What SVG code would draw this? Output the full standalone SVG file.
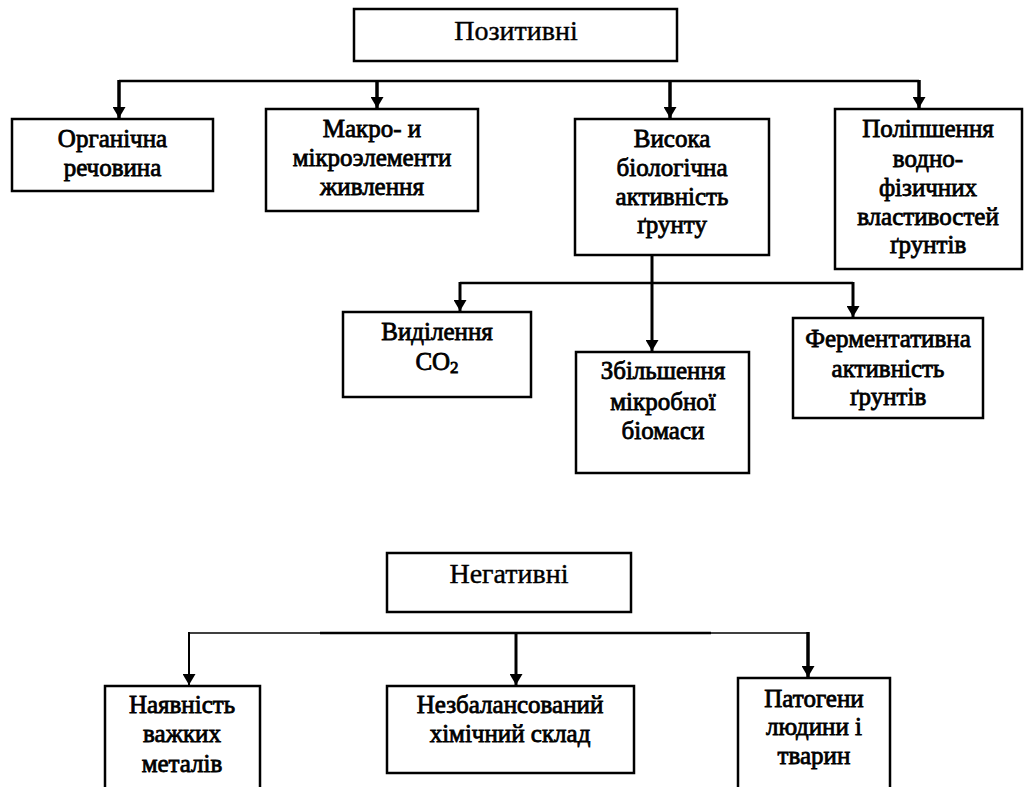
<svg xmlns="http://www.w3.org/2000/svg" width="1026" height="787" viewBox="0 0 1026 787">
<style>
.box{fill:#fff;stroke:#000;stroke-width:2.5}
.t{font-family:"Liberation Serif",serif;font-size:25px;text-anchor:middle;fill:#000;stroke:#000;stroke-width:0.8}
.h{font-family:"Liberation Serif",serif;font-size:28px;text-anchor:middle;fill:#000;stroke:#000;stroke-width:0.4}
.c{stroke:#000;fill:none}
</style>
<defs>
<marker id="ah" markerUnits="userSpaceOnUse" markerWidth="13" markerHeight="13" refX="11" refY="6.5" orient="auto">
<path d="M0,0 L11,6.5 L0,13 z" fill="#000"/>
</marker>
</defs>
<rect width="1026" height="787" fill="#fff"/>
<g id="connectors">
<line class="c" x1="119" y1="81" x2="919" y2="81" stroke-width="2.5"/>
<line class="c" x1="119" y1="80" x2="119" y2="118" stroke-width="3.5" marker-end="url(#ah)"/>
<line class="c" x1="377" y1="80" x2="377" y2="108" stroke-width="3.5" marker-end="url(#ah)"/>
<line class="c" x1="670" y1="80" x2="670" y2="118" stroke-width="3.5" marker-end="url(#ah)"/>
<line class="c" x1="919" y1="80" x2="919" y2="108" stroke-width="3.5" marker-end="url(#ah)"/>
<line class="c" x1="652" y1="255" x2="652" y2="351" stroke-width="3" marker-end="url(#ah)"/>
<line class="c" x1="460" y1="283" x2="853" y2="283" stroke-width="2.5"/>
<line class="c" x1="460" y1="282" x2="460" y2="311" stroke-width="3" marker-end="url(#ah)"/>
<line class="c" x1="853" y1="282" x2="853" y2="317" stroke-width="3" marker-end="url(#ah)"/>
<line class="c" x1="189" y1="633" x2="808" y2="633" stroke-width="1.5"/>
<line class="c" x1="320" y1="633" x2="711" y2="633" stroke-width="2.5"/>
<line class="c" x1="189" y1="632" x2="189" y2="685" stroke-width="2" marker-end="url(#ah)"/>
<line class="c" x1="516" y1="632" x2="516" y2="685" stroke-width="3" marker-end="url(#ah)"/>
<line class="c" x1="808" y1="632" x2="808" y2="677" stroke-width="3.5" marker-end="url(#ah)"/>
</g>
<g id="pozytyvni">
<rect class="box" x="354" y="9" width="323" height="52"/>
<text class="h" x="516" y="40">Позитивні</text>
</g>
<g id="orhanichna">
<rect class="box" x="12" y="119" width="201" height="72"/>
<text class="t" x="112.5" y="147">Органічна</text>
<text class="t" x="112.5" y="176">речовина</text>
</g>
<g id="makro">
<rect class="box" x="266" y="109" width="212" height="102"/>
<text class="t" x="372" y="137">Макро- и</text>
<text class="t" x="372" y="166">мікроэлементи</text>
<text class="t" x="372" y="195">живлення</text>
</g>
<g id="vysoka">
<rect class="box" x="575" y="119" width="194" height="136"/>
<text class="t" x="672" y="147">Висока</text>
<text class="t" x="672" y="176">біологічна</text>
<text class="t" x="672" y="205">активність</text>
<text class="t" x="672" y="233">ґрунту</text>
</g>
<g id="polipshennia">
<rect class="box" x="835" y="109" width="187" height="160"/>
<text class="t" x="928" y="137">Поліпшення</text>
<text class="t" x="928" y="167">водно-</text>
<text class="t" x="928" y="196">фізичних</text>
<text class="t" x="928" y="225">властивостей</text>
<text class="t" x="928" y="253">ґрунтів</text>
</g>
<g id="vydilennia">
<rect class="box" x="343" y="312" width="188" height="85"/>
<text class="t" x="437" y="340">Виділення</text>
<text class="t" x="437" y="370">CO<tspan font-size="17" dy="3">2</tspan></text>
</g>
<g id="zbilshennia">
<rect class="box" x="576" y="352" width="173" height="121"/>
<text class="t" x="663" y="379">Збільшення</text>
<text class="t" x="663" y="410">мікробної</text>
<text class="t" x="663" y="439">біомаси</text>
</g>
<g id="fermentatyvna">
<rect class="box" x="793" y="318" width="190" height="100"/>
<text class="t" x="888" y="347">Ферментативна</text>
<text class="t" x="888" y="377">активність</text>
<text class="t" x="888" y="405">ґрунтів</text>
</g>
<g id="nehatyvni">
<rect class="box" x="387" y="553" width="244" height="59"/>
<text class="h" x="509" y="583">Негативні</text>
</g>
<g id="naiavnist">
<rect class="box" x="105" y="686" width="155" height="120"/>
<text class="t" x="182" y="713">Наявність</text>
<text class="t" x="182" y="742">важких</text>
<text class="t" x="182" y="772">металів</text>
</g>
<g id="nezbalansovanyi">
<rect class="box" x="387" y="686" width="247" height="87"/>
<text class="t" x="510" y="713">Незбалансований</text>
<text class="t" x="510" y="742">хімічний склад</text>
</g>
<g id="patoheny">
<rect class="box" x="738" y="678" width="152" height="130"/>
<text class="t" x="814" y="707">Патогени</text>
<text class="t" x="814" y="735">людини і</text>
<text class="t" x="814" y="764">тварин</text>
</g>
</svg>
